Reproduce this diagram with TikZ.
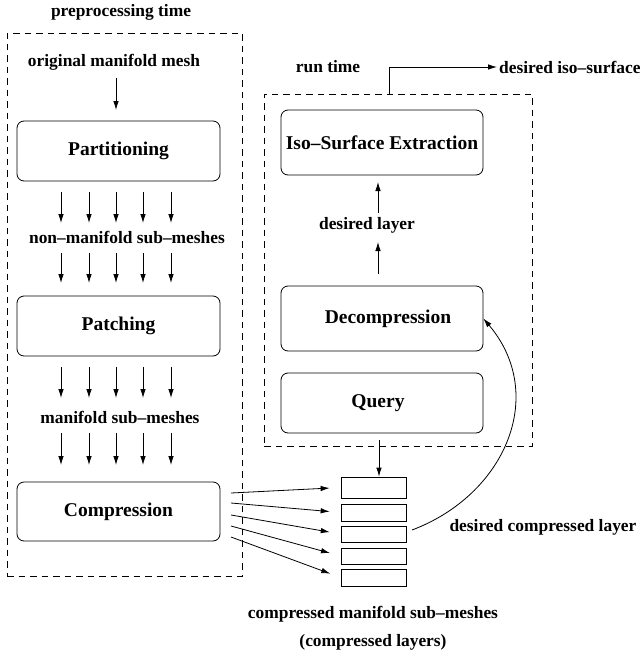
\documentclass[tikz,border=0pt]{standalone}
\usepackage{fontspec}
\setmainfont{Liberation Serif}
\usetikzlibrary{arrows.meta}
\begin{document}
\begin{tikzpicture}[x=1pt,y=-1pt,
  lbl/.style={font=\bfseries\fontsize{17.4}{20}\selectfont, inner sep=0pt},
  boxlbl/.style={font=\bfseries\fontsize{19.5}{22}\selectfont},
  procbox/.style={draw, line width=0.8pt, rounded corners=7pt, boxlbl, inner sep=0pt},
  dashbox/.style={draw, line width=0.8pt, dash pattern=on 6.5pt off 5pt, inner sep=0pt},
  layerbox/.style={draw, line width=0.8pt, minimum width=65pt, inner sep=0pt},
  arr/.style={line width=0.8pt, -{Latex[length=9pt,width=5.5pt]}}
]
\useasboundingbox (0,0) rectangle (641,656);
% dashed regions
\node[dashbox, minimum width=235pt, minimum height=543pt] (pre) at (124.5,304.5) {};
\node[dashbox, minimum width=268pt, minimum height=352pt] (run) at (398,270) {};
% titles
\node[lbl] (pretitle) at (121,12) {preprocessing time};
\node[lbl] (runtitle) at (328,67) {run time};
\node[lbl, anchor=west] (iso out) at (499,67) {desired iso–surface};
% left column
\node[lbl] (orig) at (114,62) {original manifold mesh};
\node[procbox, minimum width=203pt, minimum height=60pt] (part) at (118.5,151) {Partitioning};
\node[lbl] (nonman) at (127,237) {non–manifold sub–meshes};
\node[procbox, minimum width=203pt, minimum height=60pt] (patch) at (118.5,326) {Patching};
\node[lbl] (man) at (120,417) {manifold sub–meshes};
\node[procbox, minimum width=203pt, minimum height=59pt] (comp) at (118.5,511.5) {Compression};
% right column
\node[procbox, minimum width=202pt, minimum height=65pt] (iso) at (382,142.5) {Iso–Surface Extraction};
\node[lbl] (deslayer) at (367,225) {desired layer};
\node[procbox, minimum width=202pt, minimum height=65pt] (dec) at (382,318.5) {\hspace{12pt}Decompression};
\node[procbox, minimum width=202pt, minimum height=60pt] (query) at (382,403) {\hspace{-8pt}Query};
% layers
\node[layerbox, minimum height=21pt] (l1) at (373.5,487.5) {};
\node[layerbox, minimum height=17pt] (l2) at (373.5,512.5) {};
\node[layerbox, minimum height=16pt] (l3) at (373.5,534) {};
\node[layerbox, minimum height=16pt] (l4) at (373.5,556) {};
\node[layerbox, minimum height=17pt] (l5) at (373.5,577.5) {};
\node[lbl] (dcl) at (543,527) {desired compressed layer};
\node[lbl] (cms) at (373,614) {compressed manifold sub–meshes};
\node[lbl] (cl) at (373,642) {(compressed layers)};
% top arrow
\draw[arr] (116,78) coordinate (o1) -- (116,110) coordinate (o2);
% column arrows
\foreach \x in {61,89,116,143,171} {
  \draw[arr] (\x,192) -- (\x,223);
  \draw[arr] (\x,253) -- (\x,283);
  \draw[arr] (\x,367) -- (\x,398);
  \draw[arr] (\x,433) -- (\x,465);
}
% run time arrows
\coordinate (d1) at (378,274); \coordinate (d2) at (378,242);
\coordinate (d3) at (378,213); \coordinate (d4) at (378,182);
\draw[arr] (d1) -- (d2);
\draw[arr] (d3) -- (d4);
\coordinate (q1) at (379,440);
\draw[arr] (q1) -- (l1.north -| q1);
\coordinate (out0) at (389,94);
\draw[arr] (out0) -- (389,67) -- ([xshift=-2pt]iso out.west);
% compression to layers
\coordinate (c1) at (231,493); \coordinate (c2) at (231,503); \coordinate (c3) at (231,515);
\coordinate (c4) at (231,526); \coordinate (c5) at (231,537);
\draw[arr, shorten >=11pt] (c1) -- (l1.west);
\draw[arr, shorten >=11pt] (c2) -- (l2.west);
\draw[arr, shorten >=11pt] (c3) -- (l3.west);
\draw[arr, shorten >=11pt] (c4) -- (l4.west);
\draw[arr, shorten >=11pt] (c5) -- (l5.west);
% curve
\coordinate (cs) at (412,530);
\draw[arr] (cs) .. controls (505,495) and (548,395) .. (dec.east);
\end{tikzpicture}
\end{document}
